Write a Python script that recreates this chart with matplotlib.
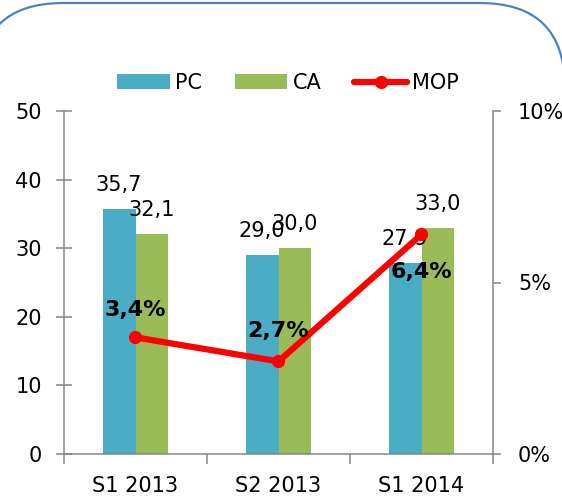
import matplotlib.pyplot as plt
import numpy as np
from matplotlib.patches import FancyBboxPatch
from matplotlib.ticker import FuncFormatter

periods = ["S1 2013", "S2 2013", "S1 2014"]
pc = [35.7, 29.0, 27.9]
ca = [32.1, 30.0, 33.0]
mop = [0.034, 0.027, 0.064]

plt.rcParams['font.family'] = 'DejaVu Sans'
plt.rcParams['font.size'] = 15

fig = plt.figure(figsize=(5.62, 4.96), dpi=100)

# background axes in pixel units for the rounded chart border
bg = fig.add_axes([0, 0, 1, 1], zorder=-1)
bg.set_xlim(0, 562)
bg.set_ylim(496, 0)
bg.axis("off")
# filled (white) so Agg does not clip the bezier corners at the canvas edge
bg.add_patch(FancyBboxPatch((-22, 3), 587, 600, boxstyle="round,pad=0,rounding_size=85",
                            facecolor="white", edgecolor="#4F81BD", linewidth=1.6,
                            clip_on=False))

ax = fig.add_axes([64/562, 42/496, 429/562, 343/496])
ax2 = ax.twinx()

x = np.arange(len(periods))
w = 0.23
gray = "#868686"

b1 = ax.bar(x - w/2, pc, w, color="#4BACC6", label="PC", zorder=2)
b2 = ax.bar(x + w/2, ca, w, color="#9BBB59", label="CA", zorder=2)
ax.bar_label(b1, labels=[f"{v:.1f}".replace(".", ",") for v in pc], padding=10, fontsize=15)
ax.bar_label(b2, labels=[f"{v:.1f}".replace(".", ",") for v in ca], padding=10, fontsize=15)

ax.set_xlim(-0.5, 2.5)
ax.set_ylim(0, 50)
ax.set_yticks([0, 10, 20, 30, 40, 50])
ax.set_xticks(x)
ax.set_xticklabels(periods)
ax.set_xticks([-0.5, 0.5, 1.5, 2.5], minor=True)
ax.tick_params(axis="x", which="major", length=0, pad=16)
ax.tick_params(axis="x", which="minor", length=7, width=1.1, color=gray, direction="out")
ax.tick_params(axis="y", length=12, width=1.1, color=gray, direction="inout", pad=10)

line, = ax2.plot(x, mop, color="#FF0000", lw=4.5, marker="o", markersize=8.5, label="MOP",
                 solid_capstyle="round", zorder=3)
offsets = [20, 22, -27]
for xi, v, off in zip(x, mop, offsets):
    ax2.annotate(f"{v*100:.1f}%".replace(".", ","), (xi, v), xytext=(0, off),
                 textcoords="offset points", ha="center", va="center",
                 fontsize=16, fontweight="bold")
ax2.set_ylim(0, 0.10)
ax2.set_yticks([0, 0.05, 0.10])
ax2.yaxis.set_major_formatter(FuncFormatter(lambda v, p: f"{v*100:.0f}%"))
ax2.tick_params(axis="y", length=6, width=1.1, color=gray, direction="out", pad=12)

for a in (ax, ax2):
    a.spines["top"].set_visible(False)
    for s in ("left", "right", "bottom"):
        a.spines[s].set_color(gray)
        a.spines[s].set_linewidth(1.1)
ax.spines["right"].set_visible(False)
ax2.spines["left"].set_visible(False)
ax2.spines["bottom"].set_visible(False)

fig.legend(handles=[b1, b2, line], loc="center", bbox_to_anchor=(288/562, 413/496),
           ncol=3, frameon=False, handlelength=2.5, handletextpad=0.25,
           columnspacing=1.6, fontsize=15)

fig.savefig("out.png", dpi=100)
